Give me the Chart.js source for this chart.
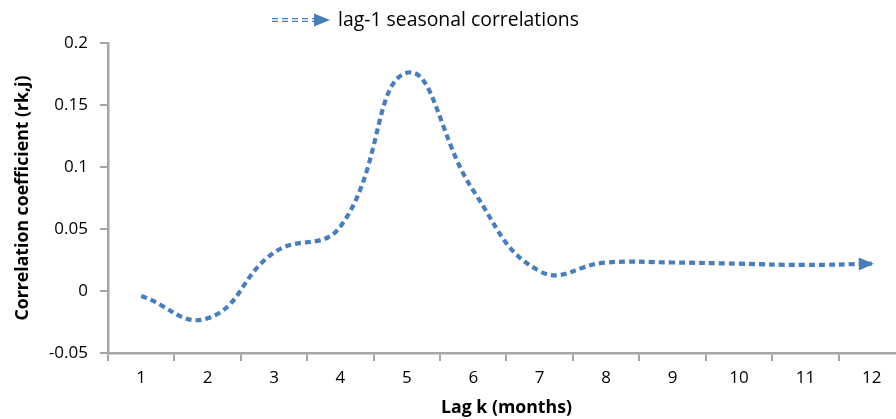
<!DOCTYPE html>
<html>
<head>
<meta charset="utf-8">
<script src="https://cdn.jsdelivr.net/npm/chart.js@4.4.0/dist/chart.umd.min.js"></script>
<style>
html,body{margin:0;padding:0;overflow:hidden;background:#ffffff}
#wrap{width:905px;height:419px;position:relative}
</style>
</head>
<body>
<div id="wrap"><canvas id="c"></canvas></div>
<script>
// ---- data ----
const categories = ['1','2','3','4','5','6','7','8','9','10','11','12'];
const lagCorrelations = [-0.004, -0.022, 0.031, 0.052, 0.176, 0.081, 0.016, 0.023, 0.023, 0.022, 0.021, 0.022];
const yTickValues = [-0.05, 0, 0.05, 0.1, 0.15, 0.2];
const yTickLabels = ['-0.05', '0', '0.05', '0.1', '0.15', '0.2'];
const seriesLabel = 'lag-1 seasonal correlations';
const xTitle = 'Lag k (months)';
const yTitle = 'Correlation coefficient (rk,j)';

const BLUE = '#4a7ebb';
const AXIS = '#a6a6a6';
const FONT = '"Open Sans"';

function yLabel(v){
  for (let i = 0; i < yTickValues.length; i++) {
    if (Math.abs(yTickValues[i] - v) < 1e-9) return yTickLabels[i];
  }
  return '';
}

const arrowPlugin = {
  id: 'arrowEnd',
  afterDatasetsDraw(chart) {
    const meta = chart.getDatasetMeta(0);
    const pts = meta.data;
    const last = pts[pts.length - 1];
    let dx = last.x - last.cp1x, dy = last.y - last.cp1y;
    const len = Math.hypot(dx, dy) || 1;
    dx /= len; dy /= len;
    const L = 15, W = 6.5;
    const tipX = last.x + dx * 2, tipY = last.y + dy * 2;
    const bx = tipX - dx * L, by = tipY - dy * L;
    const ctx = chart.ctx;
    ctx.save();
    ctx.fillStyle = BLUE;
    ctx.beginPath();
    ctx.moveTo(tipX, tipY);
    ctx.lineTo(bx - dy * W, by + dx * W);
    ctx.lineTo(bx + dy * W, by - dx * W);
    ctx.closePath();
    ctx.fill();
    ctx.restore();
  }
};

const legendPlugin = {
  id: 'customLegend',
  afterDraw(chart) {
    const ctx = chart.ctx;
    const y = 20;
    const x0 = 272;
    ctx.save();
    ctx.lineCap = 'butt';
    ctx.setLineDash([6, 4]);
    ctx.strokeStyle = BLUE; ctx.lineWidth = 4.2;
    ctx.beginPath(); ctx.moveTo(x0, y); ctx.lineTo(x0 + 42, y); ctx.stroke();
    ctx.strokeStyle = '#ffffff'; ctx.lineWidth = 1.3;
    ctx.beginPath(); ctx.moveTo(x0, y); ctx.lineTo(x0 + 42, y); ctx.stroke();
    ctx.setLineDash([]);
    ctx.fillStyle = BLUE;
    ctx.beginPath();
    ctx.moveTo(x0 + 58, y);
    ctx.lineTo(x0 + 42, y - 6.5);
    ctx.lineTo(x0 + 42, y + 6.5);
    ctx.closePath(); ctx.fill();
    ctx.fillStyle = '#000000';
    ctx.font = '19.4px ' + FONT;
    ctx.textBaseline = 'middle';
    ctx.textAlign = 'left';
    ctx.fillText(seriesLabel, x0 + 66, y);
    ctx.restore();
  }
};

function build() {
  Chart.defaults.font.family = FONT;
  Chart.defaults.color = '#000000';
  new Chart(document.getElementById('c'), {
    type: 'line',
    data: {
      labels: categories,
      datasets: [
        {
          label: seriesLabel,
          data: lagCorrelations,
          borderColor: BLUE,
          borderWidth: 4.2,
          borderDash: [6, 4],
          borderCapStyle: 'butt',
          tension: 0.45,
          pointRadius: 0,
          fill: false
        },
        {
          label: seriesLabel + ' (inner)',
          data: lagCorrelations,
          borderColor: '#ffffff',
          borderWidth: 1.3,
          borderDash: [6, 4],
          borderCapStyle: 'butt',
          tension: 0.45,
          pointRadius: 0,
          fill: false
        }
      ]
    },
    options: {
      responsive: true,
      maintainAspectRatio: false,
      animation: false,
      layout: { padding: { top: 43, left: 0, right: 0, bottom: 0 } },
      plugins: { legend: { display: false }, tooltip: { enabled: false } },
      scales: {
        x: {
          type: 'category',
          offset: true,
          grid: { display: true, drawOnChartArea: false, drawTicks: true, tickLength: 8, offset: true, color: AXIS, lineWidth: 2 },
          border: { display: true, color: AXIS, width: 2.5 },
          ticks: { font: { size: 17 }, color: '#000', padding: 7, maxRotation: 0, autoSkip: false },
          title: { display: true, text: xTitle, font: { size: 17.7, weight: 'bold' }, color: '#000', padding: { top: 0, bottom: 0 } },
          afterFit(s) { s.height = 66; }
        },
        y: {
          min: -0.05,
          max: 0.2,
          grid: { display: true, drawOnChartArea: false, drawTicks: true, tickLength: 8, color: AXIS, lineWidth: 2 },
          border: { display: true, color: AXIS, width: 2.5 },
          ticks: { stepSize: 0.05, font: { size: 17 }, color: '#000', padding: 12, callback: (v) => yLabel(v) },
          title: { display: true, text: yTitle, font: { size: 17.7, weight: 'bold' }, color: '#000', padding: { top: 12, bottom: 0 } },
          afterFit(s) { s.width = 108; }
        }
      }
    },
    plugins: [arrowPlugin, legendPlugin]
  });
}

if (document.fonts && document.fonts.load) {
  Promise.all([document.fonts.load('17px "Open Sans"'), document.fonts.load('bold 17px "Open Sans"')])
    .then(build, build);
} else {
  build();
}
</script>
</body>
</html>
